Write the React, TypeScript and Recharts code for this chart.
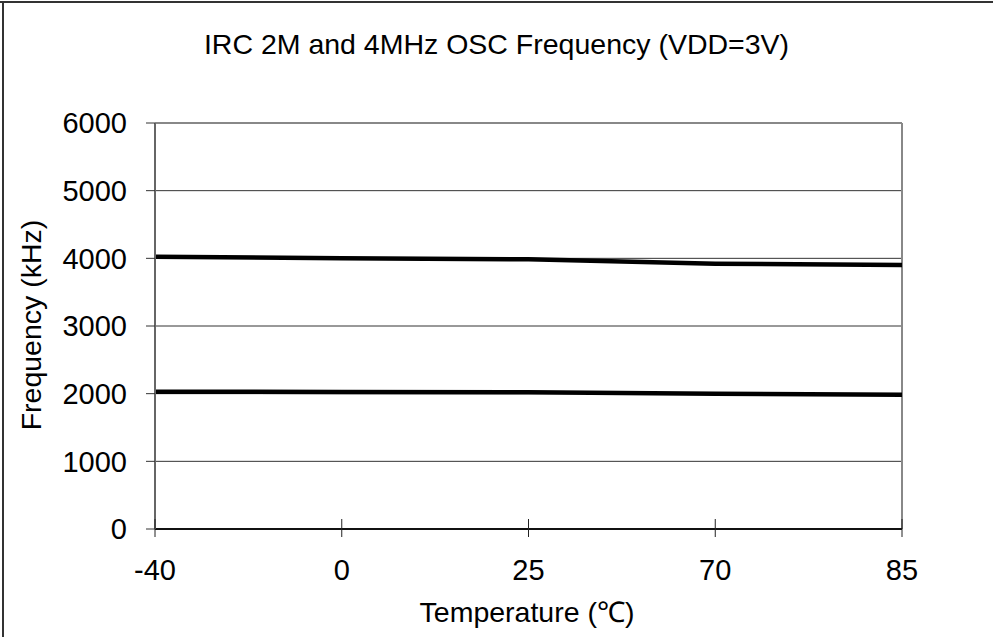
import React from "react";
import {
  LineChart,
  Line,
  XAxis,
  YAxis,
  CartesianGrid,
  ReferenceLine,
} from "recharts";

const temperatures: string[] = ["-40", "0", "25", "70", "85"];
const irc2M: number[] = [2030, 2025, 2020, 2000, 1985];
const osc4M: number[] = [4025, 4000, 3985, 3920, 3900];
const yTicks: number[] = [0, 1000, 2000, 3000, 4000, 5000, 6000];

const data = temperatures.map((t, i) => ({
  temp: t,
  irc2M: irc2M[i],
  osc4M: osc4M[i],
}));

const FONT = "'Liberation Sans', Arial, sans-serif";

const XTick = (props: any) => {
  const { x, y, payload } = props;
  return (
    <g>
      <line x1={x} x2={x} y1={y - 10} y2={y + 8} stroke="#222" strokeWidth={1} />
      <text
        x={x}
        y={y + 51}
        textAnchor="middle"
        fontSize={29}
        fontFamily={FONT}
        fill="#000"
      >
        {payload.value}
      </text>
    </g>
  );
};

const App: React.FC = () => {
  return (
    <div
      style={{
        position: "absolute",
        left: 0,
        top: 0,
        width: 993,
        height: 637,
        background: "#fff",
        fontFamily: FONT,
      }}
    >
      <LineChart
        width={993}
        height={637}
        data={data}
        margin={{ top: 123, right: 91, bottom: 48, left: 95 }}
      >
        <CartesianGrid vertical={false} stroke="#333" strokeWidth={1} />
        <XAxis
          dataKey="temp"
          height={60}
          tickLine={false}
          tickSize={0}
          tickMargin={0}
          tick={<XTick />}
          axisLine={{ stroke: "#111", strokeWidth: 2 }}
          interval={0}
        />
        <YAxis
          width={60}
          domain={[0, 6000]}
          ticks={yTicks}
          tickSize={9}
          tickMargin={19}
          tickLine={{ stroke: "#333" }}
          axisLine={{ stroke: "#666", strokeWidth: 2 }}
          tick={{ fontSize: 29, fontFamily: FONT, fill: "#000" }}
          interval={0}
        />
        <ReferenceLine y={6000} stroke="#888" strokeWidth={2} />
        <ReferenceLine x="85" stroke="#888" strokeWidth={2} />
        <Line
          type="linear"
          dataKey="osc4M"
          stroke="#000"
          strokeWidth={4.5}
          dot={false}
          isAnimationActive={false}
        />
        <Line
          type="linear"
          dataKey="irc2M"
          stroke="#000"
          strokeWidth={4.5}
          dot={false}
          isAnimationActive={false}
        />
      </LineChart>

      <div
        style={{
          position: "absolute",
          left: 0,
          top: 30,
          width: 993,
          textAlign: "center",
          fontSize: 28.5,
          lineHeight: "28px",
          color: "#000",
        }}
      >
        IRC 2M and 4MHz OSC Frequency (VDD=3V)
      </div>
      <div
        style={{
          position: "absolute",
          left: 31 - 150,
          top: 325 - 15,
          width: 300,
          height: 30,
          textAlign: "center",
          fontSize: 28.5,
          lineHeight: "30px",
          color: "#000",
          transform: "rotate(-90deg)",
        }}
      >
        Frequency (kHz)
      </div>
      <div
        style={{
          position: "absolute",
          left: 527 - 200,
          top: 612 - 15,
          width: 400,
          height: 30,
          textAlign: "center",
          fontSize: 28.5,
          lineHeight: "30px",
          color: "#000",
        }}
      >
        Temperature (℃)
      </div>
      <div
        style={{
          position: "absolute",
          left: 0,
          top: 1,
          width: 993,
          height: 2,
          background: "#333",
        }}
      />
      <div
        style={{
          position: "absolute",
          left: 2,
          top: 1,
          width: 2,
          height: 636,
          background: "#333",
        }}
      />
    </div>
  );
};

export default App;
